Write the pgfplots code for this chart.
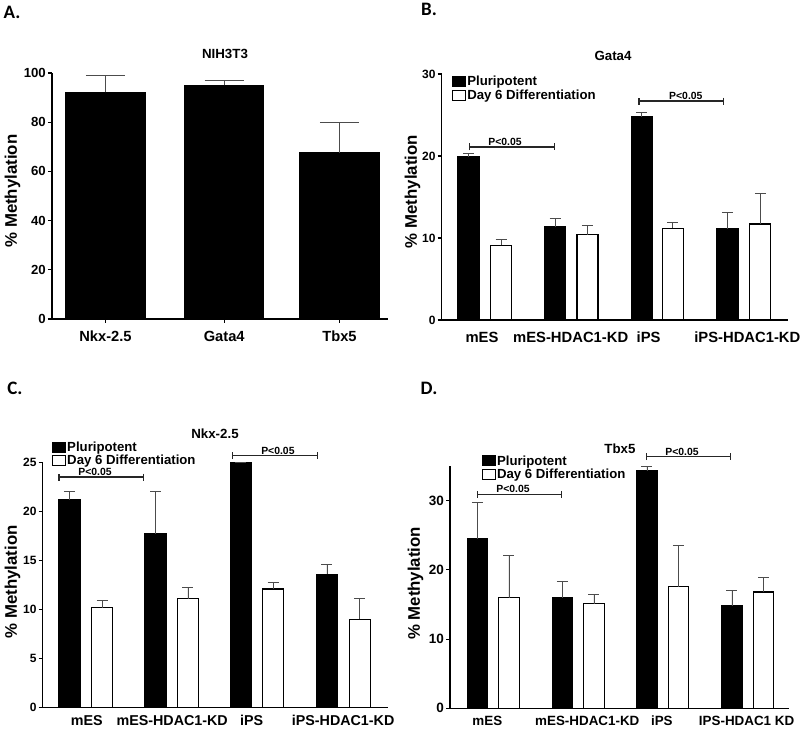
\documentclass[border=0pt]{standalone}
\usepackage{fontspec}
\setmainfont{Liberation Sans}
\newfontfamily\calib{Carlito}
\usepackage{pgfplots}
\pgfplotsset{compat=1.18}
\usetikzlibrary{arrows.meta}
\newcommand\fs[1]{\fontsize{#1}{#1}\selectfont\bfseries}
\pgfplotsset{
  prism/.style={
    scale only axis, clip=false,
    axis lines*=left,
    axis line style={line width=1.3pt,-},
    tick style={black, line width=1.1pt},
    tick align=outside, major tick length=4pt,
    ytick pos=left, xtick pos=bottom,
    xtick style={draw=none},
    /pgf/number format/assume math mode=true,
    ymin=0,
    ybar, bar shift=0pt,
    yticklabel style={inner sep=0pt, xshift=-2pt},
    xticklabel style={inner sep=0pt, yshift=-8pt},
    ylabel={\% Methylation},
    ylabel style={font=\fs{16.8}, anchor=center},
    error bars/y dir=plus, error bars/y explicit,
    error bars/error mark=-,
    error bars/error bar style={line width=0.9pt, black!70},
    legend style={draw=none, fill=none, inner sep=0pt, row sep=0pt, nodes={inner sep=1pt}, font=\fs{13.2}},
    legend cell align=left,
  },
  pbar/.style={fill=black, draw=black, line width=1.2pt,
    legend image code/.code={\draw[fill=black,draw=black,line width=1pt] (0pt,-5pt) rectangle (13pt,5pt);}},
  dbar/.style={fill=white, draw=black, line width=1.2pt,
    legend image code/.code={\draw[fill=white,draw=black,line width=1pt] (0pt,-5pt) rectangle (13pt,5pt);}},
}
\tikzset{
  brk/.style={line width=1.3pt, black!85, {Bar[width=7pt]}-{Bar[width=7pt]}},
  ptxt/.style={font=\fs{10.4}, anchor=base, inner sep=0pt, yshift=1.5pt},
}
\begin{document}
\begin{tikzpicture}[x=1pt,y=1pt]
\path[use as bounding box] (0,0) rectangle (800,728);

% ---------------- A ----------------
\begin{axis}[prism, at={(52pt,409pt)}, anchor=south west, width=336pt, height=246pt,
  xmin=-0.457, xmax=2.415, ymax=100, ytick={0,20,40,60,80,100},
  xtick={0,1.015,2}, xticklabels={Nkx-2.5,Gata4,Tbx5},
  xtick style={draw=black},
  xticklabel style={font=\fs{14.7}}, yticklabel style={font=\fs{13.2}},
  ylabel style={at={(axis description cs:-0.1176,0.52)}},
  bar width=79pt,
  error bars/error mark options={rotate=90, black!70, line width=0.9pt, mark size=19.5pt}]
\addplot[pbar] coordinates {(0,92.1) +- (0,6.8) (1.015,95.0) +- (0,2.0) (2,67.6) +- (0,12.3)};
\end{axis}

% ---------------- B ----------------
\begin{axis}[prism, at={(441.7pt,408pt)}, anchor=south west, width=346.3pt, height=246pt,
  xmin=-0.5, xmax=3.5, ymax=30, ytick={0,10,20,30},
  xtick={-0.035,0.99,1.89,3.03}, xticklabels={mES,mES-HDAC1-KD,iPS,iPS-HDAC1-KD},
  xticklabel style={font=\fs{14.8}}, yticklabel style={font=\fs{12}},
  ylabel style={at={(axis description cs:-0.084,0.522)}},
  bar width=21pt,
  error bars/error mark options={rotate=90, black!70, line width=0.9pt, mark size=5.5pt},
  legend style={at={(axis description cs:0.03,0.995)}, anchor=north west}]
\addplot[pbar] coordinates {(-0.19,19.9) +- (0,0.4) (0.81,11.4) +- (0,1.0) (1.81,24.8) +- (0,0.5) (2.8,11.1) +- (0,2.0)};
\addplot[dbar] coordinates {(0.185,9.1) +- (0,0.75) (1.184,10.4) +- (0,1.1) (2.17,11.2) +- (0,0.7) (3.18,11.7) +- (0,3.75)};
\legend{Pluripotent,Day 6 Differentiation}
\draw[brk] (axis cs:-0.19,21.1) -- (axis cs:0.81,21.1);
\node[ptxt] at (axis cs:0.231,21.1) {P<0.05};
\draw[brk] (axis cs:1.77,26.7) -- (axis cs:2.76,26.7);
\node[ptxt] at (axis cs:2.32,26.7) {P<0.05};
\end{axis}

% ---------------- C ----------------
\begin{axis}[prism, at={(42.7pt,20.3pt)}, anchor=south west, width=345.3pt, height=245.4pt,
  xmin=-0.5, xmax=3.5, ymax=25, ytick={0,5,10,15,20,25},
  xtick={0.01,1.0,1.92,2.98}, xticklabels={mES,mES-HDAC1-KD,iPS,iPS-HDAC1-KD},
  xticklabel style={font=\fs{14.3}, yshift=4.5pt}, yticklabel style={font=\fs{12}},
  ylabel style={at={(axis description cs:-0.0875,0.513)}},
  bar width=21pt,
  error bars/error mark options={rotate=90, black!70, line width=0.9pt, mark size=5.5pt},
  legend style={at={(axis description cs:0.027,1.087)}, anchor=north west}]
\addplot[pbar] coordinates {(-0.19,21.2) +- (0,0.8) (0.807,17.7) +- (0,4.3) (1.797,24.95) +- (0,0) (2.793,13.6) +- (0,1.0)};
\addplot[dbar] coordinates {(0.187,10.2) +- (0,0.7) (1.183,11.1) +- (0,1.1) (2.168,12.1) +- (0,0.65) (3.175,9.0) +- (0,2.1)};
\legend{Pluripotent,Day 6 Differentiation}
\draw[brk] (axis cs:-0.32,23.5) -- (axis cs:0.677,23.5);
\node[ptxt] at (axis cs:0.106,23.5) {P<0.05};
\draw[brk] (axis cs:1.693,25.68) -- (axis cs:2.689,25.68);
\node[ptxt] at (axis cs:2.225,25.68) {P<0.05};
\end{axis}

% ---------------- D ----------------
\begin{axis}[prism, at={(450pt,19.7pt)}, anchor=south west, width=339pt, height=242.2pt,
  xmin=-0.5, xmax=3.5, ymax=35, ytick={0,10,20,30},
  xtick={-0.06,1.12,2.0,3.0}, xticklabels={mES,mES-HDAC1-KD,iPS,IPS-HDAC1 KD},
  xticklabel style={font=\fs{13.4}, yshift=4.5pt}, yticklabel style={font=\fs{13.5}},
  ylabel style={at={(axis description cs:-0.102,0.516)}},
  bar width=20.5pt,
  error bars/error mark options={rotate=90, black!70, line width=0.9pt, mark size=5.5pt},
  legend style={at={(axis description cs:0.094,1.049)}, anchor=north west}]
\addplot[pbar] coordinates {(-0.176,24.5) +- (0,5.2) (0.827,16.0) +- (0,2.3) (1.824,34.3) +- (0,0.6) (2.827,14.8) +- (0,2.2)};
\addplot[dbar] coordinates {(0.196,16.0) +- (0,6.05) (1.199,15.1) +- (0,1.4) (2.196,17.6) +- (0,5.9) (3.2,16.8) +- (0,2.1)};
\legend{Pluripotent,Day 6 Differentiation}
\draw[brk] (axis cs:-0.181,30.9) -- (axis cs:0.822,30.9);
\node[ptxt] at (axis cs:0.244,30.9) {P<0.05};
\draw[brk] (axis cs:1.812,36.36) -- (axis cs:2.816,36.36);
\node[ptxt] at (axis cs:2.237,36.36) {P<0.05};
\end{axis}

% titles and panel letters
\node[font=\fs{13.3}] at (225,674) {NIH3T3};
\node[font=\fs{13.3}] at (613,672) {Gata4};
\node[font=\fs{13.3}] at (215,294) {Nkx-2.5};
\node[font=\fs{13.3}] at (620,279.7) {Tbx5};
\node[font=\calib\fontsize{19}{19}\selectfont\bfseries] at (12,716) {A.};
\node[font=\calib\fontsize{19}{19}\selectfont\bfseries] at (429,719) {B.};
\node[font=\calib\fontsize{19}{19}\selectfont\bfseries] at (15,340) {C.};
\node[font=\calib\fontsize{19}{19}\selectfont\bfseries] at (429,340) {D.};
\end{tikzpicture}
\end{document}
